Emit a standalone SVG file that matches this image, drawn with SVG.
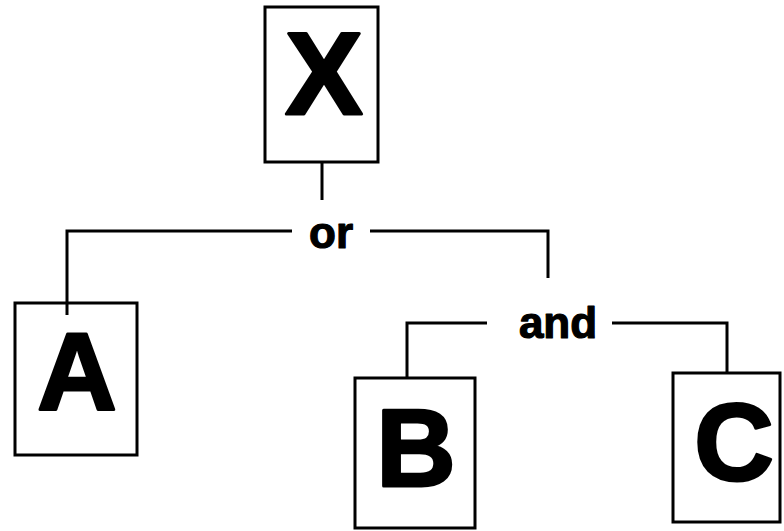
<svg xmlns="http://www.w3.org/2000/svg" width="784" height="531" viewBox="0 0 784 531">
<style>
.box{fill:#fff;stroke:#000;stroke-width:3}
.big{font-family:"Liberation Sans",Arial,sans-serif;font-weight:bold;font-size:110px;text-anchor:middle;fill:#000;stroke:#000;stroke-width:3;stroke-linejoin:round}
.op{font-family:"Liberation Sans",Arial,sans-serif;font-weight:bold;font-size:44px;text-anchor:middle;fill:#000;stroke:#000;stroke-width:1.2;stroke-linejoin:round}
.conn{fill:none;stroke:#000;stroke-width:3}
</style>
<rect width="784" height="531" fill="#fff"/>
<g id="node-X">
<rect class="box" x="265" y="7" width="113" height="155"/>
<text class="big" x="324" y="114" style="font-size:116px">X</text>
</g>
<g id="node-A">
<rect class="box" x="15" y="303" width="122" height="152"/>
<text class="big" x="77" y="409">A</text>
</g>
<g id="node-B">
<rect class="box" x="355" y="378" width="120" height="150"/>
<text class="big" x="416" y="486">B</text>
</g>
<g id="node-C">
<rect class="box" x="673" y="373" width="107" height="149"/>
<text class="big" x="734" y="480">C</text>
</g>
<g id="op-or">
<text class="op" x="331" y="248">or</text>
</g>
<g id="op-and">
<text class="op" x="558" y="338">and</text>
</g>
<g id="connectors">
<path class="conn" d="M322,162 V200"/>
<path class="conn" d="M292,231 H67 V315"/>
<path class="conn" d="M370,231 H548 V278"/>
<path class="conn" d="M487,323 H407 V378"/>
<path class="conn" d="M612,323 H727 V373"/>
</g>
</svg>
